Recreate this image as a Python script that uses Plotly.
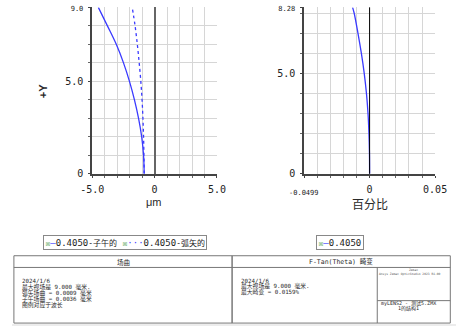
import plotly.graph_objects as go

# ---------------- data ----------------
field_y = [0, 1, 2, 3, 4, 5, 6, 7, 8, 9]
tangential_um = [-0.84, -0.89, -1.04, -1.29, -1.62, -2.02, -2.50, -3.08, -3.79, -4.52]
sagittal_um = [-0.84, -0.86, -0.89, -0.94, -1.01, -1.11, -1.24, -1.39, -1.57, -1.80]

dist_y = [0, 1, 2, 3, 4, 5, 6, 7, 8, 8.28]
distortion_pct = [0, -0.0001, -0.0005, -0.0012, -0.0024, -0.0041, -0.0063, -0.0089, -0.0118, -0.0130]

fc_xticks = [-5, 0, 5]
fc_xticktext = ["-5.0", "0", "5.0"]
fc_yticks = [0, 5, 9]
fc_yticktext = ["0", "5.0", '<span style="font-size:7px">9.0</span>']

d_xticks = [-0.0499, 0, 0.05]
d_xticktext = ["-0.0499", "0", "0.05"]
d_yticks = [0, 5, 8.28]
d_yticktext = ["0", "5.0", '<span style="font-size:7px">8.28</span>']

legend_wave = ["0.4050", "0.4050"]
legend_kind = ["-子午的", "-弧矢的"]
legend_right = ["0.4050"]

fc_title = "场曲"
dist_title = "F-Tan(Theta) 畸变"
fc_lines = ["2024/1/6", "最大视场是 9.000 毫米.", "弧矢场曲 = 0.0009 毫米",
            "子午场曲 = 0.0036 毫米", "图例对应于波长"]
dist_lines = ["2024/1/6", "最大视场是 9.000 毫米.", "最大畸变 = 0.0159%"]
brand_lines = ["Zemax", "Ansys Zemax OpticStudio 2023 R1.00"]
file_lines = ["myLENS2 - 测试5.ZMX", "1的结构1"]

# ---------------- layout helpers ----------------
W, H = 468, 331
def px(x):
    return x / W
def py(y):
    return 1 - y / H

BLUE = "#3a3aff"
MONO = "DejaVu Sans Mono, Noto Sans CJK SC"
CJK = "Noto Sans CJK SC, DejaVu Sans"

fig = go.Figure()
fig.add_trace(go.Scatter(x=tangential_um, y=field_y, mode="lines", line_shape="spline",
                         line=dict(color=BLUE, width=1.3), xaxis="x", yaxis="y", showlegend=False))
fig.add_trace(go.Scatter(x=sagittal_um, y=field_y, mode="lines", line_shape="spline",
                         line=dict(color=BLUE, width=1.3, dash="dot"), xaxis="x", yaxis="y", showlegend=False))
fig.add_trace(go.Scatter(x=distortion_pct, y=dist_y, mode="lines", line_shape="spline",
                         line=dict(color=BLUE, width=1.3), xaxis="x2", yaxis="y2", showlegend=False))

grid = "#d6d6d6"
minor_common = dict(showgrid=True, gridcolor=grid, gridwidth=1, ticks="outside", ticklen=2, tickcolor="#666")
axis_common = dict(showline=True, linecolor="#444", linewidth=2, gridcolor=grid, gridwidth=1,
                   ticks="outside", ticklen=2, tickcolor="#444",
                   tickfont=dict(family=MONO, size=10, color="#222"), fixedrange=True)

fig.update_layout(
    width=W, height=H, margin=dict(l=0, r=0, t=0, b=0),
    paper_bgcolor="white", plot_bgcolor="white",
    xaxis=dict(domain=[px(84.7), px(216)], range=[-5, 5], tickvals=fc_xticks, ticktext=fc_xticktext,
               zeroline=True, zerolinecolor="#666", zerolinewidth=1.5, ticklabelstandoff=3,
               minor=dict(dtick=1, **minor_common), anchor="y", **axis_common),
    yaxis=dict(domain=[py(175), py(4.5)], range=[0, 9], tickvals=fc_yticks, ticktext=fc_yticktext,
               zeroline=False, ticklabelstandoff=3,
               minor=dict(dtick=1, **minor_common), anchor="x", **axis_common),
    xaxis2=dict(domain=[px(308), px(446)], range=[-0.0499, 0.05], tickvals=d_xticks,
                ticktext=[""] + d_xticktext[1:],
                zeroline=False, ticklabelstandoff=3,
                minor=dict(tick0=0, dtick=0.01, **minor_common), anchor="y2", **axis_common),
    yaxis2=dict(domain=[py(175), py(4.5)], range=[0, 8.28], tickvals=d_yticks, ticktext=d_yticktext,
                zeroline=False, ticklabelstandoff=3,
                minor=dict(dtick=1, **minor_common), anchor="x2", **axis_common),
)

shapes = [
    dict(type="line", xref="x2", yref="y2 domain", x0=0, x1=0, y0=0, y1=1,
         line=dict(color="black", width=1), layer="above"),
    # light grey strip under the table
    dict(type="rect", xref="paper", yref="paper", x0=0, x1=1, y0=0, y1=py(329),
         line=dict(width=0), fillcolor="#ececec", layer="below"),
]
line_style = dict(color="#777", width=1)
def rect(x0, y0, x1, y1):
    shapes.append(dict(type="rect", xref="paper", yref="paper", x0=px(x0), x1=px(x1),
                       y0=py(y1), y1=py(y0), line=line_style, fillcolor="rgba(0,0,0,0)"))
def hline(x0, x1, y):
    shapes.append(dict(type="line", xref="paper", yref="paper", x0=px(x0), x1=px(x1),
                       y0=py(y), y1=py(y), line=line_style))
def vline(x, y0, y1):
    shapes.append(dict(type="line", xref="paper", yref="paper", x0=px(x), x1=px(x),
                       y0=py(y0), y1=py(y1), line=line_style))

rect(2, 259, 232, 328)
rect(232, 259, 462, 328)
hline(2, 462, 271)
vline(385, 271, 328)
hline(385, 462, 305)
fig.update_layout(shapes=shapes)

ann = []
def text(x, y, s, size, family=MONO, xanchor="left", color="#2a2a2a", **kw):
    ann.append(dict(xref="paper", yref="paper", x=px(x), y=py(y), text=s, showarrow=False,
                    xanchor=xanchor, yanchor="middle", font=dict(family=family, size=size, color=color), **kw))

# small first tick label of the distortion axis, sitting a bit lower
ann.append(dict(xref="x2", yref="paper", x=d_xticks[0], y=py(195), text=d_xticktext[0], showarrow=False,
                xanchor="center", yanchor="middle", font=dict(family=MONO, size=7, color="#222")))

# axis titles
text(33, 90, "<b>+Y</b>", 11, family="Liberation Sans, Arial", xanchor="center", textangle=-90)
text(150, 204, "μm", 11, family="Liberation Sans, Arial", xanchor="center")
text(377, 205, "百分比", 12, family=CJK, xanchor="center")

# legends
BOX = '<span style="color:#2a8a2a; font-size:8px">☒</span>'
def cjk(s):
    return f'<span style="font-size:8px">{s}</span>'
left_leg = (BOX + f'<span style="color:{BLUE}">—</span>' + legend_wave[0] + cjk(legend_kind[0]) + " " +
            BOX + f'<span style="color:{BLUE}">···</span>' + legend_wave[1] + cjk(legend_kind[1]))
ann.append(dict(xref="paper", yref="paper", x=px(119), y=py(245.3), text=left_leg, showarrow=False,
                xanchor="center", yanchor="middle", font=dict(family=MONO, size=9, color="#222"),
                bordercolor="#888", borderwidth=1, borderpad=1.5, bgcolor="white"))
right_leg = BOX + f'<span style="color:{BLUE}">—</span>' + legend_right[0]
ann.append(dict(xref="paper", yref="paper", x=px(346), y=py(245.3), text=right_leg, showarrow=False,
                xanchor="center", yanchor="middle", font=dict(family=MONO, size=9, color="#222"),
                bordercolor="#888", borderwidth=1, borderpad=1.5, bgcolor="white"))

# table headers
text(117, 265, fc_title, 6.5, family=CJK, xanchor="center")
text(347, 265, dist_title, 6.5, xanchor="center")

for i, s in enumerate(fc_lines):
    text(8, 284.5 + i * 6.3, s, 5.8)
for i, s in enumerate(dist_lines):
    text(239, 284.5 + i * 6.0, s, 5.8)

text(423, 274, brand_lines[0], 3, xanchor="center", color="#555")
text(420, 277.5, brand_lines[1], 3, xanchor="center", color="#555")
text(418, 307.5, file_lines[0], 5, xanchor="center")
text(418, 313.5, file_lines[1], 5, xanchor="center")

fig.update_layout(annotations=ann)
fig.write_html("out.html")
